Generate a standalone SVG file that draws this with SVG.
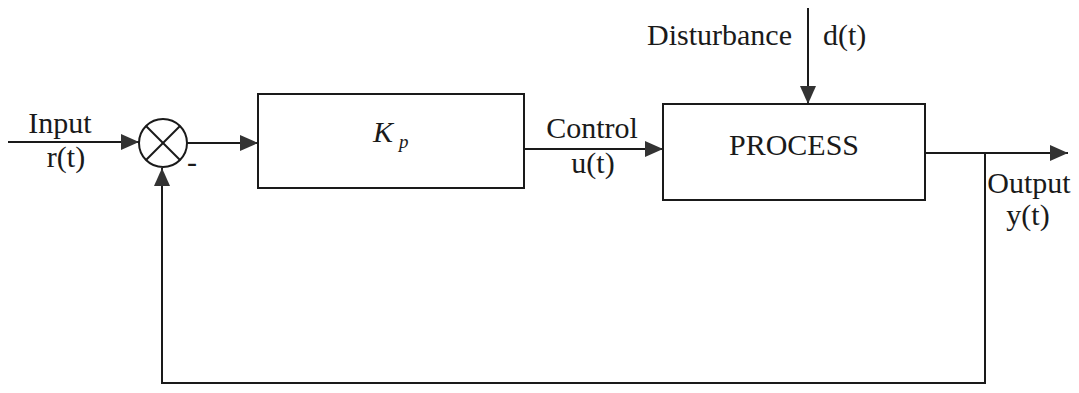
<svg xmlns="http://www.w3.org/2000/svg" width="1079" height="393" viewBox="0 0 1079 393">
  <style>
    .ln { fill: none; stroke: #1a1a1a; stroke-width: 2; }
    .box { fill: #ffffff; stroke: #1a1a1a; stroke-width: 2; }
    .lbl { font-family: "Liberation Serif", "Times New Roman", serif; font-size: 30px; fill: #1a1a1a; }
  </style>
  <defs>
    <marker id="arrowL" viewBox="0 0 18 16" refX="18" refY="8" markerWidth="18" markerHeight="16" markerUnits="userSpaceOnUse" orient="auto">
      <path d="M0,0 L18,8 L0,16 Z" fill="#333333"/>
    </marker>
  </defs>
  <rect width="1079" height="393" fill="#ffffff"/>

  <!-- connectors -->
  <g id="connectors">
    <line class="ln" x1="8" y1="142" x2="139" y2="142" marker-end="url(#arrowL)"/>
    <line class="ln" x1="187" y1="143" x2="258" y2="143" marker-end="url(#arrowL)"/>
    <line class="ln" x1="524" y1="149" x2="663" y2="149" marker-end="url(#arrowL)"/>
    <line class="ln" x1="808" y1="8" x2="808" y2="104" marker-end="url(#arrowL)"/>
    <line class="ln" x1="925" y1="153" x2="1068" y2="153" marker-end="url(#arrowL)"/>
    <polyline class="ln" points="985,153 985,383 162,383 162,168" marker-end="url(#arrowL)"/>
  </g>

  <!-- summing junction -->
  <g id="sum">
    <circle class="box" cx="163" cy="143" r="24"/>
    <line class="ln" x1="146" y1="126" x2="180" y2="160"/>
    <line class="ln" x1="180" y1="126" x2="146" y2="160"/>
    <text class="lbl" x="187" y="172" font-size="22">-</text>
  </g>

  <!-- controller gain -->
  <g id="controller">
    <rect class="box" x="258" y="94" width="266" height="94"/>
    <text class="lbl" x="373" y="142" font-style="italic">K<tspan font-size="19" dx="6" dy="6">p</tspan></text>
  </g>

  <!-- plant -->
  <g id="process">
    <rect class="box" x="663" y="104" width="262" height="96"/>
    <text class="lbl" x="794" y="155" text-anchor="middle" font-size="27">PROCESS</text>
  </g>

  <!-- signal labels -->
  <g id="labels">
    <text class="lbl" x="60" y="133" text-anchor="middle">Input</text>
    <text class="lbl" x="66" y="167" text-anchor="middle">r(t)</text>
    <text class="lbl" x="592" y="138" text-anchor="middle">Control</text>
    <text class="lbl" x="593" y="173" text-anchor="middle">u(t)</text>
    <text class="lbl" x="792" y="45" text-anchor="end">Disturbance</text>
    <text class="lbl" x="823" y="45">d(t)</text>
    <text class="lbl" x="1029" y="193" text-anchor="middle">Output</text>
    <text class="lbl" x="1028" y="225" text-anchor="middle">y(t)</text>
  </g>
</svg>
